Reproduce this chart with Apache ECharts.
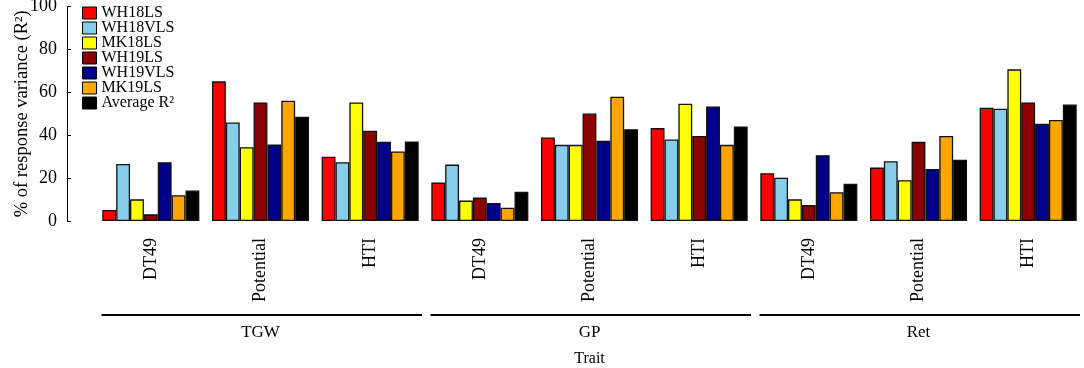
<!DOCTYPE html>
<html>
<head>
<meta charset="utf-8">
<script src="https://cdn.jsdelivr.net/npm/echarts@6/dist/echarts.min.js"></script>
<style>
  html, body { margin: 0; padding: 0; background: #fff; }
  #chart { width: 1084px; height: 368px; }
</style>
</head>
<body>
<div id="chart"></div>
<script>
// data
const categories = ['DT49', 'Potential', 'HTI', 'DT49', 'Potential', 'HTI', 'DT49', 'Potential', 'HTI']
const groups = ['TGW', 'GP', 'Ret']
const yTicks = [0, 20, 40, 60, 80, 100]

const WH18LS  = [5.1, 65.1, 30.0, 17.9, 38.9, 43.3, 22.3, 24.9, 52.8]
const WH18VLS = [26.6, 45.9, 27.4, 26.3, 35.5, 38.0, 20.2, 27.9, 52.3]
const MK18LS  = [10.1, 34.4, 55.3, 9.5, 35.5, 54.7, 10.1, 19.0, 70.7]
const WH19LS  = [3.1, 55.3, 42.1, 10.9, 50.1, 39.6, 7.5, 36.9, 55.3]
const WH19VLS = [27.4, 35.7, 36.9, 8.4, 37.4, 53.4, 30.7, 24.2, 45.3]
const MK19LS  = [12.0, 56.1, 32.4, 6.2, 57.9, 35.5, 13.4, 39.6, 47.1]
const avgR2   = [14.2, 48.6, 37.1, 13.6, 42.8, 44.1, 17.4, 28.6, 54.3]

const seriesDefs = [
  {name: 'WH18LS', data: WH18LS, color: '#ff0000'},
  {name: 'WH18VLS', data: WH18VLS, color: '#87ceeb'},
  {name: 'MK18LS', data: MK18LS, color: '#ffff00'},
  {name: 'WH19LS', data: WH19LS, color: '#8b0000'},
  {name: 'WH19VLS', data: WH19VLS, color: '#00008b'},
  {name: 'MK19LS', data: MK19LS, color: '#ffa500'},
  {name: 'Average R²', data: avgR2, color: '#000000'}
]

const serif = '"Liberation Serif", "DejaVu Serif", serif'

const chart = echarts.init(document.getElementById('chart'))

const option = {
  animation: false,
  textStyle: {fontFamily: serif, color: '#000'},
  grid: {left: 96, right: 1, top: 6.5, bottom: 147, outerBoundsMode: 'none', containLabel: false},
  legend: {
    orient: 'vertical',
    left: 82,
    top: 5,
    padding: 0,
    itemWidth: 14,
    itemHeight: 12,
    itemGap: -1,
    icon: 'rect',
    itemStyle: {borderColor: '#000', borderWidth: 1},
    textStyle: {fontFamily: serif, fontSize: 16, color: '#000'},
    data: seriesDefs.map(s => s.name)
  },
  xAxis: [
    {
      type: 'category',
      data: categories,
      axisLine: {show: false},
      axisTick: {show: false},
      axisLabel: {rotate: 90, margin: 17, fontSize: 18, color: '#000', fontFamily: serif, interval: 0}
    },
    {
      type: 'category',
      data: groups,
      position: 'bottom',
      offset: 95,
      axisLine: {show: false},
      axisTick: {show: false},
      axisLabel: {margin: 8, fontSize: 17, color: '#000', fontFamily: serif},
      name: 'Trait',
      nameLocation: 'middle',
      nameGap: 35,
      nameTextStyle: {fontSize: 16, color: '#000', fontFamily: serif}
    }
  ],
  yAxis: {
    type: 'value',
    min: yTicks[0],
    max: yTicks[yTicks.length - 1],
    interval: 20,
    offset: 29,
    name: '% of response variance (R²)',
    nameLocation: 'middle',
    nameGap: 35,
    nameMoveOverlap: false,
    nameTextStyle: {fontSize: 18.5, color: '#000', fontFamily: serif},
    axisLine: {show: true, lineStyle: {color: '#000', width: 1}},
    axisTick: {show: true, inside: true, length: 4, lineStyle: {color: '#000'}},
    axisLabel: {fontSize: 18, color: '#000', fontFamily: serif, margin: 10},
    splitLine: {show: false}
  },
  series: seriesDefs.map(s => ({
    name: s.name,
    type: 'bar',
    data: s.data,
    barGap: '0%',
    barCategoryGap: '11.5%',
    itemStyle: {color: s.color, borderColor: '#111', borderWidth: 1.3}
  }))
}

chart.setOption(option)

// group bracket lines under the trait labels, placed from the category axis
function drawGroupLines() {
  const x0 = chart.convertToPixel({xAxisIndex: 0}, 0)
  const x1 = chart.convertToPixel({xAxisIndex: 0}, 1)
  const bw = x1 - x0
  const lines = groups.map((g, i) => {
    const left = chart.convertToPixel({xAxisIndex: 0}, i * 3) - bw / 2 + 5.5
    const right = chart.convertToPixel({xAxisIndex: 0}, i * 3 + 2) + bw / 2 - 3
    return {
      type: 'line',
      shape: {x1: left, y1: 315, x2: right, y2: 315},
      style: {stroke: '#000', lineWidth: 2}
    }
  })
  chart.setOption({graphic: lines})
}
drawGroupLines()
</script>
</body>
</html>
